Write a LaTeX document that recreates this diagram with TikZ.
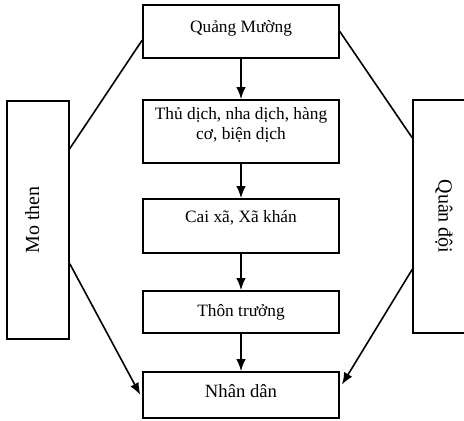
\documentclass[tikz,border=0pt]{standalone}
\usepackage{fontspec}
\setmainfont{Liberation Serif}
\usetikzlibrary{arrows.meta}

\begin{document}
\begin{tikzpicture}[x=0.75pt, y=-0.75pt, line width=1.2pt,
  box/.style={draw, minimum width=147pt, inner sep=0pt, font=\fontsize{13}{15}\selectfont},
  side/.style={draw, minimum height=46.5pt, inner sep=0pt, font=\fontsize{15}{18}\selectfont},
  arr/.style={-{Latex[length=9pt,width=7pt]}}]

\useasboundingbox (0,0) rectangle (464,421);
\clip (0,0) rectangle (464,421);

\node (quang) at (241,31.5) [box, minimum height=39.75pt, text height=9pt, text depth=8.25pt]{Quảng Mường};
\node (thudich) at (241,131.5) [box, minimum height=47.25pt, align=center, text depth=12pt]{Thủ dịch, nha dịch, hàng\\cơ, biện dịch};
\node (caixa) at (241,226) [box, minimum height=40.5pt, text height=6pt, text depth=11.5pt]{Cai xã, Xã khán};
\node (thon) at (241,312) [box, minimum height=31.5pt, text height=11pt, text depth=5pt]{Thôn trưởng};
\node (nhandan) at (241,395) [box, minimum height=34.5pt, text height=10pt, text depth=7pt, font=\fontsize{14}{16}\selectfont]{Nhân dân};

\node (mothen) at (38,220) [side, rotate=90, minimum width=178.5pt, text height=8pt, text depth=6.5pt]{Mo then};
\node (quandoi) at (444,216.5) [side, rotate=-90, minimum width=174.75pt]{Quân đội};

\draw[arr] (quang) -- (thudich);
\draw[arr] (thudich) -- (caixa);
\draw[arr] (caixa) -- (thon);
\draw[arr] (thon) -- (nhandan);

\draw (quang.185) -- (mothen.-24.5);
\draw[arr, shorten >=3pt] (mothen.-144) -- (nhandan.182);
\draw (quang.east) -- (quandoi.-158.5);
\draw[arr, shorten >=3pt] (quandoi.-31) -- (nhandan.4);

\end{tikzpicture}
\end{document}
